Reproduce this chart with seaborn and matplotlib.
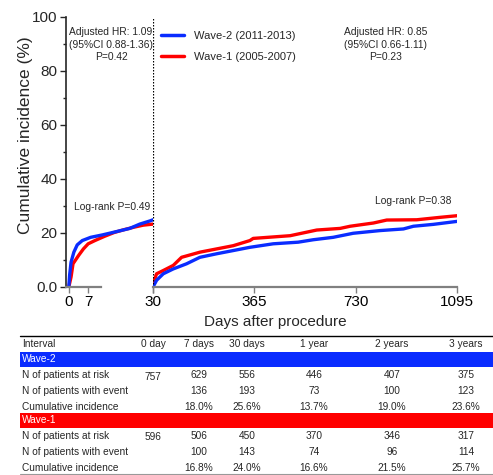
"""
Cumulative incidence, Wave-1 vs Wave-2, landmark at day 30, with risk table.
"""
import matplotlib
matplotlib.use("Agg")
import matplotlib.pyplot as plt
import numpy as np
import pandas as pd
import seaborn as sns
from matplotlib.patches import Rectangle

# ---- curves, 0-30 days (day, %)
early_days_w2 = [0, 0.3, 0.8, 1.8, 3.0, 4.8, 7.8, 12.0, 16.9, 21.7, 25.3, 29.0, 30.0]
early_inc_w2 = [0, 4.5, 9.2, 12.9, 15.6, 17.2, 18.4, 19.3, 20.5, 21.7, 23.3, 24.5, 24.9]
early_days_w1 = [0, 0.8, 1.5, 3.5, 5.2, 6.9, 9.3, 12.8, 16.2, 19.6, 23.0, 26.5, 30.0]
early_inc_w1 = [0, 3.7, 8.6, 11.7, 14.1, 16.0, 17.2, 18.8, 20.2, 21.2, 22.1, 22.9, 23.3]

# ---- curves, landmark 30-1095 days (days since landmark, %)
late_days_w2 = [0, 13, 37, 73, 121, 169, 229, 289, 349, 433, 523, 577, 649, 721, 818, 902, 938, 1010, 1095]
late_inc_w2 = [0, 2.5, 4.9, 6.7, 8.6, 11.0, 12.3, 13.5, 14.7, 16.0, 16.6, 17.5, 18.4, 19.9, 20.9, 21.5, 22.5, 23.2, 24.3]
late_days_w1 = [0, 13, 37, 73, 103, 169, 229, 289, 349, 361, 494, 590, 674, 710, 794, 842, 950, 1034, 1095]
late_inc_w1 = [1.2, 4.9, 6.1, 8.0, 11.0, 12.9, 14.1, 15.3, 17.2, 18.0, 19.0, 21.1, 21.7, 22.5, 23.7, 24.8, 24.9, 25.8, 26.4]

WAVES = ["Wave-2 (2011-2013)", "Wave-1 (2005-2007)"]
COLORS = {WAVES[0]: "#0a2cff", WAVES[1]: "#ff0000"}

# ---- risk table
intervals = ["0 day", "7 days", "30 days", "1 year", "2 years", "3 years"]
row_labels = ["N of patients at risk", "N of patients with event", "Cumulative incidence"]
w2_risk = ["757", "629", "556", "446", "407", "375"]
w2_event = ["", "136", "193", "73", "100", "123"]
w2_cum = ["", "18.0%", "25.6%", "13.7%", "19.0%", "23.6%"]
w1_risk = ["596", "506", "450", "370", "346", "317"]
w1_event = ["", "100", "143", "74", "96", "114"]
w1_cum = ["", "16.8%", "24.0%", "16.6%", "21.5%", "25.7%"]


def curve_frame(d2, v2, d1, v1):
    return pd.concat([
        pd.DataFrame({"day": d2, "inc": v2, "wave": WAVES[0]}),
        pd.DataFrame({"day": d1, "inc": v1, "wave": WAVES[1]}),
    ], ignore_index=True)


def main():
    sns.set_theme(style="ticks")
    plt.rcParams["font.family"] = ["Liberation Sans", "DejaVu Sans"]

    W, H = 493, 475
    fig = plt.figure(figsize=(W / 100, H / 100), dpi=100)

    def px(x0, y0, x1, y1):
        return [x0 / W, 1 - y1 / H, (x1 - x0) / W, (y1 - y0) / H]

    ax1 = fig.add_axes(px(66, 17, 153, 287))
    ax2 = fig.add_axes(px(153, 17, 457, 287), sharey=ax1)

    early = curve_frame(early_days_w2, early_inc_w2, early_days_w1, early_inc_w1)
    late = curve_frame(late_days_w2, late_inc_w2, late_days_w1, late_inc_w1)
    # red first so blue sits on top, as in the original
    for ax, df in ((ax1, early), (ax2, late)):
        sns.lineplot(data=df, x="day", y="inc", hue="wave", hue_order=WAVES[::-1],
                     palette=COLORS, estimator=None, linewidth=2.4, ax=ax,
                     legend=False)

    ax1.set_xlim(-1, 30)
    ax2.set_xlim(0, 1095)
    ax1.set_ylim(0, 100)

    ax1.set_yticks([0, 20, 40, 60, 80, 100])
    ax1.set_yticklabels(["0.0", "20", "40", "60", "80", "100"])
    ax1.set_yticks([10, 30, 50, 70, 90], minor=True)
    ax1.set_xticks([0, 7, 30])
    ax1.set_xticklabels(["0", "7", ""])
    ax2.set_xticks([0, 365, 730, 1095])
    ax2.set_xticklabels(["30", "365", "730", "1095"])

    for ax in (ax1, ax2):
        ax.set_xlabel("")
        ax.set_ylabel("")
        ax.spines["top"].set_visible(False)
        ax.spines["right"].set_visible(False)
        ax.spines["bottom"].set_color("#808080")
        ax.spines["bottom"].set_linewidth(1.6)
        ax.tick_params(axis="x", colors="#808080", labelcolor="black", labelsize=11,
                       length=4, width=1, pad=2)
        ax.tick_params(axis="y", labelsize=11, length=4, width=1, pad=2)
        ax.tick_params(axis="y", which="minor", length=2.5, width=1)
    ax1.spines["bottom"].set_bounds(-1, 11.5)
    ax1.spines["left"].set_linewidth(1.2)
    ax2.spines["left"].set_visible(False)
    ax2.tick_params(axis="y", which="both", left=False, labelleft=False)
    ax2.axvline(0, color="black", linestyle=(0, (1.2, 1.2)), linewidth=0.9)

    fig.text(26 / W, 1 - 135 / H, "Cumulative incidence (%)", rotation=90,
             ha="center", va="center", fontsize=12.5)
    fig.text(275 / W, 1 - 322 / H, "Days after procedure", ha="center", va="center",
             fontsize=11)

    ann = dict(ha="center", va="top", fontsize=7.4, linespacing=1.32)
    fig.text(111 / W, 1 - 27 / H, "Adjusted HR: 1.09\n(95%CI 0.88-1.36)\nP=0.42", **ann)
    fig.text(386 / W, 1 - 27 / H, "Adjusted HR: 0.85\n(95%CI 0.66-1.11)\nP=0.23", **ann)
    fig.text(112 / W, 1 - 207 / H, "Log-rank P=0.49", ha="center", va="center", fontsize=7.4)
    fig.text(413 / W, 1 - 201 / H, "Log-rank P=0.38", ha="center", va="center", fontsize=7.4)

    handles = [plt.Line2D([], [], color=COLORS[w], linewidth=2.5) for w in WAVES]
    ax2.legend(handles, WAVES, loc="upper left", bbox_to_anchor=(-0.005, 0.985),
               frameon=False, fontsize=8, handlelength=2.0, labelspacing=0.95,
               handletextpad=0.9)

    # ---- risk table in pixel coordinates
    tab = fig.add_axes([0, 0, 1, 1 - 330 / H])
    tab.set_xlim(0, W)
    tab.set_ylim(H, 330)
    tab.axis("off")

    col_x = [153, 199, 247, 314, 392, 466]
    fs = 7.3
    tab.plot([20, W], [336, 336], color="black", linewidth=1.0)
    tab.plot([20, W], [474, 474], color="#999999", linewidth=0.8)
    tab.text(22, 344, "Interval", va="center", fontsize=fs)
    for x, lab in zip(col_x, intervals):
        tab.text(x, 344, lab, ha="center", va="center", fontsize=fs)

    blocks = [("Wave-2", COLORS[WAVES[0]], 352, [w2_risk, w2_event, w2_cum]),
              ("Wave-1", COLORS[WAVES[1]], 413, [w1_risk, w1_event, w1_cum])]
    for name, color, y0, rows in blocks:
        tab.add_patch(Rectangle((20, y0), W - 20, 15, color=color, linewidth=0))
        tab.text(22, y0 + 7.5, name, va="center", fontsize=fs, color="white")
        for i, (lab, vals) in enumerate(zip(row_labels, rows)):
            y = y0 + 23 + i * 16
            tab.text(22, y, lab, va="center", fontsize=fs)
            for j, (x, v) in enumerate(zip(col_x, vals)):
                tab.text(x, y + (1.5 if j == 0 else 0), v, ha="center", va="center",
                         fontsize=fs)

    fig.savefig("out.png", dpi=100)
    plt.close(fig)


if __name__ == "__main__":
    main()
